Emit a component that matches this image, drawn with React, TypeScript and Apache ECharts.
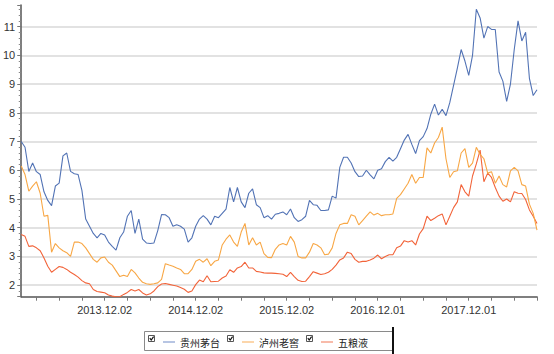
import React, { useEffect, useRef } from "react";
import * as echarts from "echarts";

const seriesNames = ["贵州茅台", "泸州老窖", "五粮液"];

const xTickLabels = ["2013.12.02", "2014.12.02", "2015.12.02", "2016.12.01", "2017.12.01"];
const xTickLabelIndex = [22, 46, 70, 94, 118];

const moutai = [
  7.0, 6.8, 5.96, 6.25, 5.95, 5.85, 5.25, 4.95, 4.77, 5.45,
  5.55, 6.5, 6.6, 5.96, 5.88, 5.85, 5.3, 4.3, 4.05, 3.8,
  3.65, 3.8, 3.75, 3.5, 3.35, 3.22, 3.65, 3.85, 4.4, 4.6,
  3.8, 4.3, 3.6, 3.47, 3.45, 3.47, 3.9, 4.46, 4.45, 4.35,
  4.05, 4.1, 4.05, 3.95, 3.5, 3.65, 4.05, 4.3, 4.42, 4.3,
  4.1, 4.4, 4.35, 4.5, 4.65, 5.4, 4.9, 5.4, 4.9, 4.7,
  5.2, 5.35, 4.8, 4.7, 4.35, 4.42, 4.3, 4.47, 4.5, 4.55,
  4.45, 4.65, 4.35, 4.22, 4.28, 4.4, 4.95, 4.8, 4.78, 4.6,
  4.6, 4.62, 5.1, 5.03, 6.1, 6.45, 6.45, 6.25, 5.95, 5.78,
  5.8, 6.0, 5.84, 5.7, 6.0, 6.05, 6.3, 6.45, 6.32, 6.45,
  6.75, 7.05, 7.25, 6.9, 6.58, 7.03, 7.17, 7.45, 7.95, 8.3,
  7.92, 8.12, 7.9, 8.35, 8.95, 9.55, 10.2, 9.8, 9.3, 10.0,
  11.6, 11.3, 10.6, 11.0, 10.9, 10.9, 9.42, 9.1, 8.4, 9.0,
  10.2, 11.2, 10.5, 10.8, 9.2, 8.6, 8.8,
];

const luzhou = [
  6.15, 5.85, 5.27, 5.45, 5.6, 5.2, 4.4, 4.43, 3.15, 3.45,
  3.3, 3.2, 3.13, 3.0, 3.5, 3.5, 3.45, 3.3, 3.1, 2.9,
  2.8, 2.95, 2.98, 2.8, 2.7, 2.5, 2.3, 2.35, 2.3, 2.55,
  2.43, 2.25, 2.1, 2.05, 2.03, 2.05, 2.08, 2.2, 2.75, 2.7,
  2.66, 2.6, 2.55, 2.4, 2.4, 2.55, 2.83, 2.9, 2.8, 2.92,
  2.68, 2.83, 2.88, 3.4, 3.6, 3.75, 3.5, 3.35, 3.85, 4.15,
  3.4, 3.65, 3.4, 3.5, 3.1, 2.97, 2.96, 3.25, 3.4, 3.45,
  3.4, 3.7, 3.5, 3.0, 2.95, 2.95, 3.15, 3.45, 3.4, 3.3,
  3.06, 3.08, 3.3, 3.8, 4.1, 4.15, 4.15, 4.45, 4.4, 4.1,
  4.25, 4.4, 4.55, 4.44, 4.5, 4.42, 4.45, 4.45, 4.48, 5.02,
  5.15, 5.35, 5.55, 5.85, 5.55, 5.75, 5.75, 6.78, 6.6, 6.95,
  7.14, 7.5, 6.4, 5.75, 5.95, 5.98, 6.6, 6.75, 6.1, 6.25,
  6.8, 6.55, 6.4, 5.9, 5.95, 5.55, 5.8, 5.5, 5.42, 5.98,
  6.1, 5.98, 5.5, 5.45, 4.82, 4.5, 3.92,
];

const wuliangye = [
  3.76, 3.7, 3.35, 3.37, 3.3, 3.2, 2.95, 2.66, 2.45, 2.55,
  2.65, 2.62, 2.55, 2.45, 2.37, 2.28, 2.16, 2.08, 2.05, 1.85,
  1.78, 1.76, 1.74, 1.66, 1.62, 1.6, 1.6, 1.68, 1.75, 1.85,
  1.8, 1.85, 1.73, 1.66, 1.7, 1.8, 1.95, 2.04, 2.06, 2.03,
  2.0, 1.97, 1.92, 1.86, 1.75, 1.8, 2.02, 2.18, 2.12, 2.33,
  2.12, 2.13, 2.14, 2.25, 2.32, 2.54, 2.45, 2.6, 2.65, 2.8,
  2.6, 2.6, 2.48, 2.46, 2.43, 2.42, 2.42, 2.41, 2.4, 2.38,
  2.3, 2.45, 2.3, 2.17, 2.13, 2.14, 2.3, 2.47, 2.42, 2.37,
  2.4, 2.45, 2.55, 2.7, 2.88, 2.95, 3.15, 3.1, 2.9, 2.8,
  2.83, 2.83, 2.88, 2.94, 3.05, 2.92, 3.0, 3.06, 3.06, 3.3,
  3.36, 3.55, 3.5, 3.55, 3.4, 3.78, 3.97, 4.4, 4.25, 4.33,
  4.42, 4.48, 4.1, 4.4, 4.7, 4.9, 5.5, 5.25, 5.1, 5.8,
  6.22, 6.7, 5.6, 5.9, 5.75, 5.4, 5.1, 4.92, 5.0, 4.9,
  5.25, 5.2, 5.19, 4.98, 4.62, 4.4, 4.15,
];

const seriesColors = ["#5273b5", "#f8a745", "#f2643a"];
const legendColors = ["#9fb2da", "#fbc98f", "#f6a48e"];

const categories = moutai.map((_, i) => {
  const j = xTickLabelIndex.indexOf(i);
  return j >= 0 ? xTickLabels[j] : "d" + i;
});

export default function App() {
  const ref = useRef<HTMLDivElement>(null);
  useEffect(() => {
    if (!ref.current) return;
    const chart = echarts.init(ref.current, null, { renderer: "svg" });
    const boxXs = [148, 227, 306];
    const graphics: any[] = [
      {
        type: "rect",
        shape: { x: 144.5, y: 331.5, width: 248, height: 19 },
        style: { fill: "#fff", stroke: "#8a8a8a", lineWidth: 1 },
        z: 0,
      },
      {
        type: "line",
        shape: { x1: 393, y1: 327, x2: 393, y2: 354 },
        style: { stroke: "#111", lineWidth: 2 },
        z: 10,
      },
    ];
    boxXs.forEach((bx) => {
      graphics.push({
        type: "rect",
        shape: { x: bx + 0.5, y: 335.5, width: 6, height: 6 },
        style: { fill: "#fff", stroke: "#555", lineWidth: 1 },
        z: 10,
      });
      graphics.push({
        type: "polyline",
        shape: { points: [[bx + 1.8, 338.2], [bx + 3.2, 340], [bx + 5.6, 336.6]] },
        style: { fill: "none", stroke: "#111", lineWidth: 1.2 },
        z: 11,
      });
    });
    chart.setOption({
      animation: false,
      grid: { left: 21, right: 17, top: 5, bottom: 57.3, containLabel: false },
      legend: {
        left: 158,
        top: 332,
        icon: "rect",
        itemWidth: 12,
        itemHeight: 1.5,
        itemGap: 22,
        selectedMode: false,
        textStyle: { fontSize: 10, fontFamily: "Noto Sans CJK SC", color: "#222" },
        data: seriesNames.map((n, i) => ({ name: n, itemStyle: { color: legendColors[i] } })),
        z: 5,
      },
      graphic: graphics,
      xAxis: {
        type: "category",
        data: categories,
        boundaryGap: false,
        axisLine: { lineStyle: { color: "#555", width: 1.5 } },
        axisTick: {
          show: true,
          length: 4,
          interval: (i: number) => i >= 4 && (i - 4) % 6 === 0,
          lineStyle: { color: "#777" },
        },
        axisLabel: {
          interval: (i: number) => xTickLabelIndex.indexOf(i) >= 0,
          fontSize: 11,
          fontFamily: "Liberation Sans",
          color: "#333",
          margin: 8,
        },
        splitLine: { show: false },
      },
      yAxis: {
        type: "value",
        min: 1.6,
        max: 11.75,
        splitNumber: 10,
        axisLine: { show: true, lineStyle: { color: "#555", width: 1.5 } },
        axisTick: { show: true, length: 4, lineStyle: { color: "#777" } },
        minorTick: { show: true, splitNumber: 5, length: 2.5, lineStyle: { color: "#888" } },
        axisLabel: {
          showMinLabel: false,
          showMaxLabel: false,
          fontSize: 11,
          fontFamily: "Liberation Sans",
          color: "#333",
          margin: 6,
        },
        splitLine: {
          show: true,
          showMinLine: false,
          showMaxLine: false,
          lineStyle: { color: "#d9d9d9", width: 1.5 },
        },
      },
      series: [moutai, luzhou, wuliangye].map((d, i) => ({
        name: seriesNames[i],
        type: "line",
        data: d,
        showSymbol: false,
        symbol: "none",
        lineStyle: { color: seriesColors[i], width: 1.1 },
        itemStyle: { color: seriesColors[i] },
        z: 3 - i,
      })),
    });
    return () => chart.dispose();
  }, []);
  return (
    <div
      ref={ref}
      style={{ position: "absolute", left: 0, top: 0, width: 554, height: 354, background: "#fff" }}
    />
  );
}
